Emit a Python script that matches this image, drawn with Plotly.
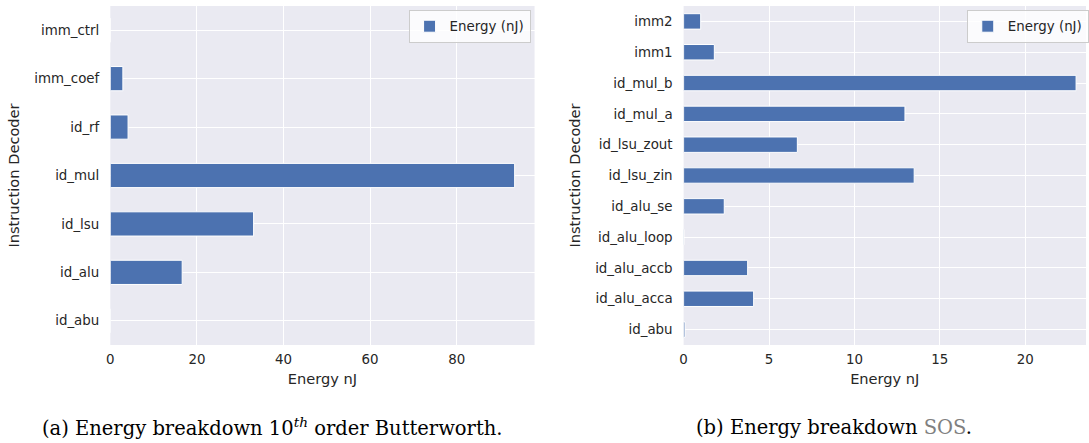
import plotly.graph_objects as go

# ---- data ----
cats_a = ["id_abu", "id_alu", "id_lsu", "id_mul", "id_rf", "imm_coef", "imm_ctrl"]
vals_a = [0.05, 16.6, 33.1, 93.4, 4.1, 2.9, 0.0]

cats_b = ["id_abu", "id_alu_acca", "id_alu_accb", "id_alu_loop", "id_alu_se",
          "id_lsu_zin", "id_lsu_zout", "id_mul_a", "id_mul_b", "imm1", "imm2"]
vals_b = [0.08, 4.1, 3.75, 0.02, 2.38, 13.5, 6.66, 12.96, 22.98, 1.8, 1.0]

ticks_a = [0, 20, 40, 60, 80]
ticks_b = [0, 5, 10, 15, 20]
series_name = "Energy (nJ)"
x_title = "Energy nJ"
y_title = "Instruction Decoder"
caption_a = "(a) Energy breakdown 10<sup><i>th</i></sup> order Butterworth."
caption_b = "(b) Energy breakdown <span style='color:#808080'>SOS</span>."

# ---- style ----
W, H = 1089, 443
BG = "#EAEAF2"
BAR = "#4C72B0"
TXT = "#262626"
TICK_FONT = dict(family="DejaVu Sans", size=13.4, color=TXT)
TITLE_FONT = dict(family="DejaVu Sans", size=14.6, color=TXT)
CAP_FONT = dict(family="DejaVu Serif", size=19.5, color="black")

fig = go.Figure()
fig.add_trace(go.Bar(
    y=cats_a, x=vals_a, orientation="h", name=series_name, width=0.5,
    marker=dict(color=BAR, line=dict(color="white", width=1)),
    xaxis="x", yaxis="y", legend="legend", showlegend=True))
fig.add_trace(go.Bar(
    y=cats_b, x=vals_b, orientation="h", name=series_name, width=0.5,
    marker=dict(color=BAR, line=dict(color="white", width=1)),
    xaxis="x2", yaxis="y2", legend="legend2", showlegend=True))

y0, y1 = 1 - 345 / H, 1 - 6 / H

common_x = dict(showgrid=True, gridcolor="white", gridwidth=1, zeroline=False,
                showline=False, ticks="", tickfont=TICK_FONT,
                ticklabelstandoff=5,
                title=dict(text=x_title, font=TITLE_FONT, standoff=7))
common_y = dict(showgrid=True, gridcolor="white", gridwidth=1, zeroline=False,
                showline=False, ticks="", tickfont=TICK_FONT,
                ticklabelstandoff=10, type="category",
                title=dict(text=y_title, font=TITLE_FONT, standoff=11))

fig.update_layout(
    width=W, height=H,
    margin=dict(l=0, r=0, t=0, b=0),
    paper_bgcolor="white", plot_bgcolor=BG,
    bargap=0.5,
    font=dict(family="DejaVu Sans", color=TXT),
    xaxis=dict(domain=[107 / W, 534 / W], range=[0, 98], tickvals=ticks_a,
               anchor="y", **common_x),
    yaxis=dict(domain=[y0, y1], range=[-0.5, len(cats_a) - 0.5], anchor="x",
               categoryorder="array", categoryarray=cats_a, **common_y),
    xaxis2=dict(domain=[684 / W, 1.0], range=[0, 23.56], tickvals=ticks_b,
                anchor="y2", **common_x),
    yaxis2=dict(domain=[y0, y1], range=[-0.5, len(cats_b) - 0.5], anchor="x2",
                categoryorder="array", categoryarray=cats_b, **common_y),
    legend=dict(x=530 / W, y=1 - 10 / H, xanchor="right", yanchor="top",
                bgcolor="rgba(255,255,255,0.8)", bordercolor="#CCCCCC",
                borderwidth=1, font=dict(family="DejaVu Sans", size=13.4, color=TXT)),
    legend2=dict(x=969 / W, y=1 - 10 / H, xanchor="left", yanchor="top",
                 bgcolor="rgba(255,255,255,0.8)", bordercolor="#CCCCCC",
                 borderwidth=1, font=dict(family="DejaVu Sans", size=13.4, color=TXT)),
    annotations=[
        dict(text=caption_a, x=270 / W, y=1 - 427 / H, xref="paper", yref="paper",
             xanchor="center", yanchor="middle", showarrow=False, font=CAP_FONT),
        dict(text=caption_b, x=835 / W, y=1 - 427 / H, xref="paper", yref="paper",
             xanchor="center", yanchor="middle", showarrow=False, font=CAP_FONT),
    ],
)

fig.write_html("out.html")
